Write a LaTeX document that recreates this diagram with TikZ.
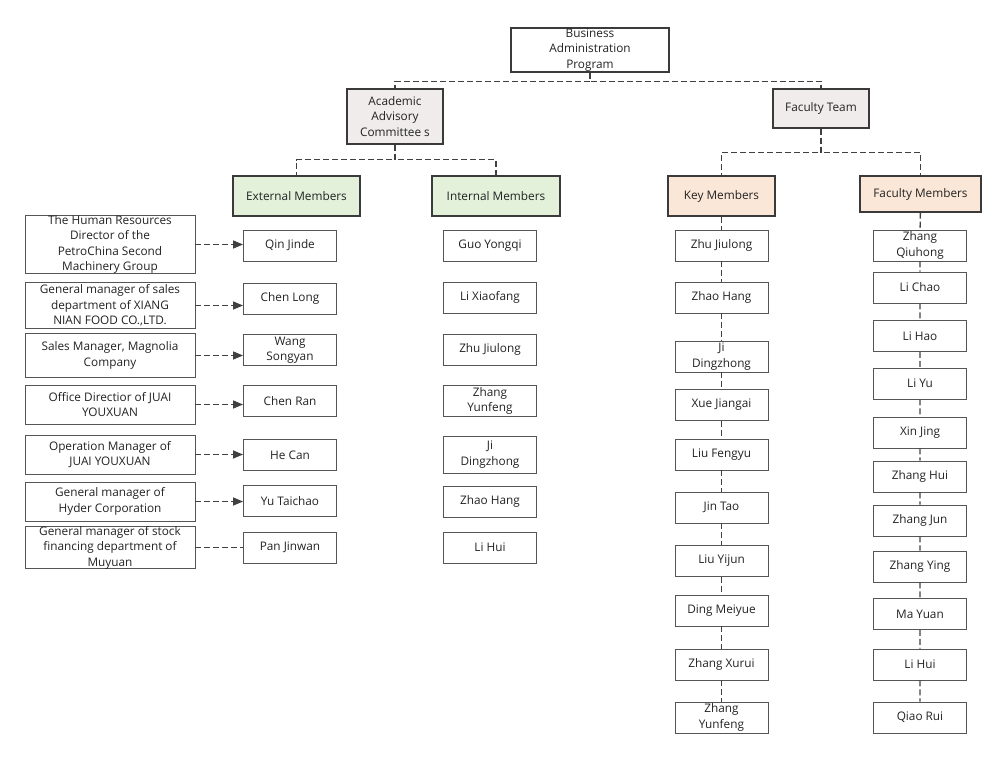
\documentclass[tikz,border=0pt]{standalone}
\usepackage{fontspec}
\setmainfont{Open Sans}
\usetikzlibrary{arrows.meta}
\definecolor{linegray}{HTML}{404040}
\definecolor{boxline}{HTML}{555555}
\definecolor{headline}{HTML}{3A3A3A}
\definecolor{textgray}{HTML}{222222}
\definecolor{graybg}{HTML}{F0ECEC}
\definecolor{greenbg}{HTML}{E3F1DA}
\definecolor{orangebg}{HTML}{FBE7D7}
\begin{document}
\begin{tikzpicture}[x=1pt,y=-1pt]
	\tikzstyle{box}=[draw=boxline,line width=0.9pt,text=textgray,font=\fontsize{11.8}{15.5}\selectfont,align=center,inner sep=0pt,minimum width=93pt,minimum height=31pt]
	\tikzstyle{head}=[box,draw=headline,line width=1.4pt]
	\tikzstyle{note}=[box,minimum width=170pt]
	\tikzstyle{link}=[draw=linegray,line width=1.4pt,dash pattern=on 6pt off 3pt]
	\tikzstyle{tip}=[-{Triangle[length=10pt,width=8pt]}]
	\useasboundingbox (0,0) rectangle (1005,758);
	% top levels
	\node[head,minimum width=158pt,minimum height=44pt] (top) at (590,50) {Business\\Administration\\Program};
	\node[head,fill=graybg,minimum width=96pt,minimum height=55pt] (acad) at (395,116.5) {Academic\\Advisory\\Committee s};
	\node[head,fill=graybg,minimum width=96pt,minimum height=39pt] (fac) at (821,108.5) {Faculty Team};
	\node[head,fill=greenbg,minimum width=127pt,minimum height=40pt] (ext) at (296.5,196) {External Members};
	\node[head,fill=greenbg,minimum width=128pt,minimum height=40pt] (int) at (496,196) {Internal Members};
	\node[head,fill=orangebg,minimum width=107pt,minimum height=40pt] (key) at (721.5,196) {Key Members};
	\node[head,fill=orangebg,minimum width=121pt,minimum height=36pt] (fmem) at (920.5,194) {Faculty Members};
	\draw[link] (top.south) -- ++(0,8.5) -| (acad.north);
	\draw[link] (top.south) -- ++(0,8.5) -| (fac.north);
	\draw[link] (acad.south) -- ++(0,15) -| (ext.north);
	\draw[link] (acad.south) -- ++(0,15) -| (int.north);
	\draw[link] (fac.south) -- ++(0,24) -| (key.north);
	\draw[link] (fac.south) -- ++(0,24) -| (fmem.north);
	% external members
	\node[note,minimum height=58pt] (d_1) at (110,244.5) {The Human Resources\\Director of the\\PetroChina Second\\Machinery Group};
	\node[note,minimum height=46pt] (d_2) at (110,305.5) {General manager of sales\\department of XIANG\\NIAN FOOD CO.,LTD.};
	\node[note,minimum height=44pt] (d_3) at (110,355.5) {Sales Manager, Magnolia\\Company};
	\node[note,minimum height=39pt] (d_4) at (110,404.5) {Office Directior of JUAI\\YOUXUAN};
	\node[note,minimum height=39pt] (d_5) at (110,454.5) {Operation Manager of\\JUAI YOUXUAN};
	\node[note,minimum height=39pt] (d_6) at (110,501.5) {General manager of\\Hyder Corporation};
	\node[note,minimum height=39pt] (d_7) at (110,547.5) {General manager of stock\\financing department of\\Muyuan};
	\node[box] (e_1) at (290,245.5) {Qin Jinde};
	\node[box] (e_2) at (290,298.5) {Chen Long};
	\node[box] (e_3) at (290,350) {Wang\\Songyan};
	\node[box] (e_4) at (290,401) {Chen Ran};
	\node[box] (e_5) at (290,455) {He Can};
	\node[box] (e_6) at (290,501) {Yu Taichao};
	\node[box] (e_7) at (290,547.5) {Pan Jinwan};
	\draw[link,tip] (d_1.east) -- (d_1.east -| e_1.west);
	\draw[link,tip] (d_2.east) -- (d_2.east -| e_2.west);
	\draw[link,tip] (d_3.east) -- (d_3.east -| e_3.west);
	\draw[link,tip] (d_4.east) -- (d_4.east -| e_4.west);
	\draw[link,tip] (d_5.east) -- (d_5.east -| e_5.west);
	\draw[link,tip] (d_6.east) -- (d_6.east -| e_6.west);
	\draw[link] (d_7) -- (e_7);
	% internal members
	\node[box] (i_1) at (490,245.5) {Guo Yongqi};
	\node[box] (i_2) at (490,297.5) {Li Xiaofang};
	\node[box] (i_3) at (490,349.5) {Zhu Jiulong};
	\node[box] (i_4) at (490,401) {Zhang\\Yunfeng};
	\node[box,minimum height=37pt] (i_5) at (490,454.5) {Ji\\Dingzhong};
	\node[box] (i_6) at (490,501.5) {Zhao Hang};
	\node[box] (i_7) at (490,547.5) {Li Hui};
	% key members
	\node[box] (k_1) at (721.5,245.5) {Zhu Jiulong};
	\node[box] (k_2) at (721.5,297.5) {Zhao Hang};
	\node[box] (k_3) at (721.5,356.5) {Ji\\Dingzhong};
	\node[box] (k_4) at (721.5,405) {Xue Jiangai};
	\node[box] (k_5) at (721.5,454.5) {Liu Fengyu};
	\node[box] (k_6) at (721.5,507.5) {Jin Tao};
	\node[box] (k_7) at (721.5,561) {Liu Yijun};
	\node[box] (k_8) at (721.5,610.5) {Ding Meiyue};
	\node[box] (k_9) at (721.5,664.5) {Zhang Xurui};
	\node[box] (k_10) at (721.5,717.5) {Zhang\\Yunfeng};
	\draw[link] (key) -- (k_1) -- (k_2) -- (k_3) -- (k_4) -- (k_5) -- (k_6) -- (k_7) -- (k_8) -- (k_9) -- (k_10);
	% faculty members
	\node[box] (f_1) at (920,245.5) {Zhang\\Qiuhong};
	\node[box] (f_2) at (920,287.5) {Li Chao};
	\node[box] (f_3) at (920,336) {Li Hao};
	\node[box] (f_4) at (920,383.5) {Li Yu};
	\node[box] (f_5) at (920,432.5) {Xin Jing};
	\node[box] (f_6) at (920,476.5) {Zhang Hui};
	\node[box] (f_7) at (920,520.5) {Zhang Jun};
	\node[box] (f_8) at (920,566.5) {Zhang Ying};
	\node[box] (f_9) at (920,614) {Ma Yuan};
	\node[box] (f_10) at (920,664.5) {Li Hui};
	\node[box] (f_11) at (920,717.5) {Qiao Rui};
	\draw[link] (fmem) -- (f_1) -- (f_2) -- (f_3) -- (f_4) -- (f_5) -- (f_6) -- (f_7) -- (f_8) -- (f_9) -- (f_10) -- (f_11);
\end{tikzpicture}
\end{document}
